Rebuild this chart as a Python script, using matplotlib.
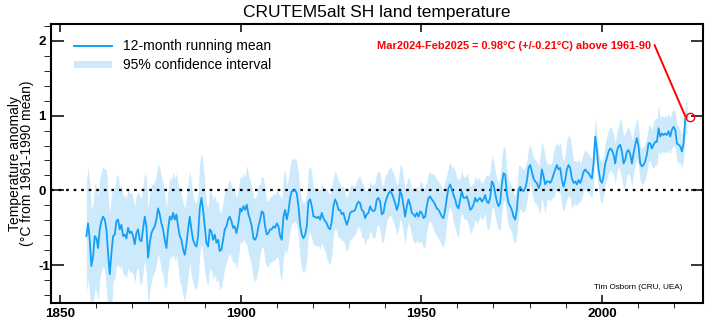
import matplotlib
matplotlib.use("Agg")
import matplotlib.pyplot as plt
from matplotlib.lines import Line2D
from matplotlib.patches import Patch
import numpy as np

plt.rcParams['font.family'] = ['Liberation Sans', 'DejaVu Sans']
plt.rcParams['axes.unicode_minus'] = False

# 12-month running mean (deg C vs 1961-1990), ~0.46 yr apart
step = 0.4615
start_a, start_b, start_c, start_d = 1857.3, 1899.85, 1944.16, 1988.47
anom_a = [-0.61, -0.44, -0.66, -1.01, -0.88, -0.61, -0.64, -0.77, -0.52, -0.41,
          -0.35, -0.39, -0.52, -0.84, -1.12, -0.84, -0.61, -0.59, -0.41, -0.39,
          -0.52, -0.46, -0.61, -0.59, -0.64, -0.50, -0.57, -0.55, -0.61, -0.72,
          -0.57, -0.52, -0.66, -0.68, -0.52, -0.35, -0.48, -0.90, -0.70, -0.57,
          -0.52, -0.48, -0.39, -0.24, -0.32, -0.44, -0.52, -0.66, -0.77, -0.52,
          -0.35, -0.39, -0.30, -0.39, -0.32, -0.48, -0.61, -0.66, -0.79, -0.86,
          -0.72, -0.52, -0.35, -0.52, -0.66, -0.72, -0.75, -0.61, -0.24, -0.10,
          -0.26, -0.48, -0.70, -0.75, -0.52, -0.55, -0.66, -0.59, -0.70, -0.66,
          -0.81, -0.79, -0.66, -0.52, -0.48, -0.39, -0.35, -0.41, -0.50, -0.48,
          -0.57, -0.46, -0.30]
anom_b = [-0.24, -0.28, -0.21, -0.26, -0.19, -0.32, -0.39, -0.48, -0.64, -0.66,
          -0.61, -0.48, -0.39, -0.28, -0.30, -0.48, -0.59, -0.57, -0.52, -0.52,
          -0.48, -0.50, -0.44, -0.48, -0.61, -0.66, -0.35, -0.26, -0.39, -0.28,
          -0.10, -0.01, -0.01, 0.01, -0.04, -0.21, -0.46, -0.59, -0.64, -0.59,
          -0.48, -0.15, -0.12, -0.21, -0.35, -0.35, -0.37, -0.35, -0.39, -0.30,
          -0.37, -0.41, -0.44, -0.50, -0.52, -0.41, -0.21, -0.12, -0.17, -0.26,
          -0.26, -0.32, -0.30, -0.39, -0.46, -0.39, -0.30, -0.28, -0.28, -0.26,
          -0.19, -0.15, -0.17, -0.26, -0.28, -0.37, -0.32, -0.30, -0.21, -0.26,
          -0.28, -0.26, -0.12, -0.10, -0.15, -0.32, -0.30, -0.17, -0.10, -0.04,
          -0.01, -0.04, -0.10, -0.17, -0.26, -0.19]
anom_c = [-0.01, -0.06, -0.21, -0.35, -0.21, -0.12, -0.19, -0.30, -0.32, -0.35,
          -0.30, -0.35, -0.28, -0.30, -0.37, -0.35, -0.21, -0.10, -0.08, -0.12,
          -0.15, -0.19, -0.24, -0.26, -0.30, -0.35, -0.37, -0.26, -0.10, 0.03,
          0.08, 0.01, -0.06, -0.12, -0.21, -0.24, -0.12, -0.01, -0.10, -0.10,
          -0.08, -0.15, -0.26, -0.24, -0.19, -0.10, -0.15, -0.12, -0.10, -0.15,
          -0.12, -0.06, -0.15, -0.17, -0.10, 0.12, 0.08, -0.04, -0.15, -0.21,
          -0.17, 0.08, 0.23, 0.21, -0.04, -0.17, -0.21, -0.26, -0.35, -0.39,
          -0.26, 0.01, 0.05, 0.01, -0.01, 0.03, 0.12, 0.30, 0.34, 0.25,
          0.16, 0.12, 0.10, 0.03, 0.08, 0.28, 0.19, 0.08, 0.12, 0.12,
          0.10, 0.14, 0.21, 0.28, 0.34, 0.28]
anom_d = [0.30, 0.14, 0.05, 0.14, 0.28, 0.34, 0.30, 0.16, 0.10, 0.12,
          0.08, 0.14, 0.10, 0.16, 0.25, 0.28, 0.25, 0.23, 0.19, 0.16,
          0.36, 0.72, 0.54, 0.28, 0.14, 0.10, 0.19, 0.36, 0.43, 0.52,
          0.56, 0.54, 0.48, 0.36, 0.52, 0.59, 0.61, 0.52, 0.36, 0.41,
          0.52, 0.54, 0.48, 0.36, 0.50, 0.61, 0.70, 0.59, 0.36, 0.32,
          0.34, 0.39, 0.48, 0.63, 0.63, 0.56, 0.61, 0.65, 0.65, 0.83,
          0.72, 0.76, 0.74, 0.76, 0.74, 0.79, 0.72, 0.81, 0.85, 0.81,
          0.63, 0.61, 0.59, 0.52, 0.63, 0.96, 0.98]

# 95% half-width, one value per 4 samples
ci_a = [0.75, 0.70, 0.67, 0.80, 0.60, 0.53, 0.53, 0.51, 0.58, 0.65, 0.60, 0.62,
        0.53, 0.55, 0.62, 0.62, 0.58, 0.61, 0.52, 0.53, 0.51, 0.49, 0.47, 0.45]
ci_b = [0.44, 0.53, 0.55, 0.47, 0.44, 0.44, 0.54, 0.44, 0.42, 0.46, 0.44, 0.38,
        0.40, 0.47, 0.38, 0.36, 0.36, 0.33, 0.36, 0.33, 0.36, 0.38, 0.32, 0.33]
ci_c = [0.37, 0.31, 0.36, 0.40, 0.33, 0.38, 0.39, 0.30, 0.38, 0.28, 0.31, 0.29,
        0.24, 0.36, 0.31, 0.36, 0.31, 0.32, 0.29, 0.27, 0.29, 0.38, 0.24, 0.31]
ci_d = [0.34, 0.40, 0.29, 0.26, 0.26, 0.25, 0.27, 0.29, 0.27, 0.36, 0.31, 0.27,
        0.24, 0.24, 0.31, 0.24, 0.24, 0.24, 0.22, 0.21]

latest_year, latest_val = 2024.5, 0.98

years, anom, half = [], [], []
for s, a, c in [(start_a, anom_a, ci_a), (start_b, anom_b, ci_b),
                (start_c, anom_c, ci_c), (start_d, anom_d, ci_d)]:
    years.append(s + step * np.arange(len(a)))
    anom.append(np.array(a))
    half.append(np.repeat(c, 4)[:len(a)])
years = np.concatenate(years)
anom = np.concatenate(anom)
half = np.concatenate(half)

line_col = '#16a0f5'
band_col = '#cdeafd'

fig = plt.figure(figsize=(7.07, 3.24), dpi=100)
ax = fig.add_axes([51/707, 1 - 302.7/324, 652/707, 279.2/324])

ax.fill_between(years, anom - half, anom + half, color=band_col, lw=0)
ax.axhline(0, color='black', ls=(0, (1.2, 2.2)), lw=1.6)
ax.plot(years, anom, color=line_col, lw=1.3)

# latest value annotation
ax.plot(latest_year, latest_val, 'o', mfc='none', mec='red', ms=6, mew=1)
ax.plot([2014.6, 2023.1], [1.94, latest_val + 0.01], color='red', lw=1.4)
ax.text(2013.6, 1.93, 'Mar2024-Feb2025 = 0.98°C (+/-0.21°C) above 1961-90',
        color='red', fontsize=7.9, fontweight='bold', ha='right', va='center')

ax.text(0.968, 0.056, 'Tim Osborn (CRU, UEA)', transform=ax.transAxes,
        fontsize=5.9, ha='right', va='center')

ax.set_xlim(1847.5, 2028)
ax.set_ylim(-1.5, 2.23)
ax.set_xticks([1850, 1900, 1950, 2000])
ax.set_xticks(np.arange(1850, 2030, 10), minor=True)
ax.set_yticks([-1, 0, 1, 2])
ax.set_yticks(np.arange(-1.4, 2.21, 0.2), minor=True)
ax.tick_params(direction='in', top=True, right=True, width=1.1, labelsize=9.7)
ax.tick_params(axis='x', which='major', length=6, pad=4)
ax.tick_params(axis='x', which='minor', length=3.6)
ax.tick_params(axis='y', which='major', length=9, pad=9)
ax.tick_params(axis='y', which='minor', length=5)
for lbl in ax.get_xticklabels() + ax.get_yticklabels():
    lbl.set_fontweight('bold')
for lbl in ax.get_yticklabels():
    lbl.set_horizontalalignment('left')
for sp in ax.spines.values():
    sp.set_linewidth(1.5)

ax.set_title('CRUTEM5alt SH land temperature', fontsize=12.5, pad=5)
fig.text(21/707, 0.495, 'Temperature anomaly\n(°C from 1961-1990 mean)',
         rotation=90, ha='center', va='center', fontsize=10, linespacing=0.85)

handles = [Line2D([], [], color=line_col, lw=1.4),
           Patch(facecolor=band_col, edgecolor='none')]
ax.legend(handles, ['12-month running mean', '95% confidence interval'],
          loc='upper left', bbox_to_anchor=(23/652, 0.943), frameon=False,
          fontsize=10, handlelength=2.7, handleheight=0.45, handletextpad=0.8,
          labelspacing=0.35, borderpad=0, borderaxespad=0)

fig.savefig('out.png', dpi=100)
